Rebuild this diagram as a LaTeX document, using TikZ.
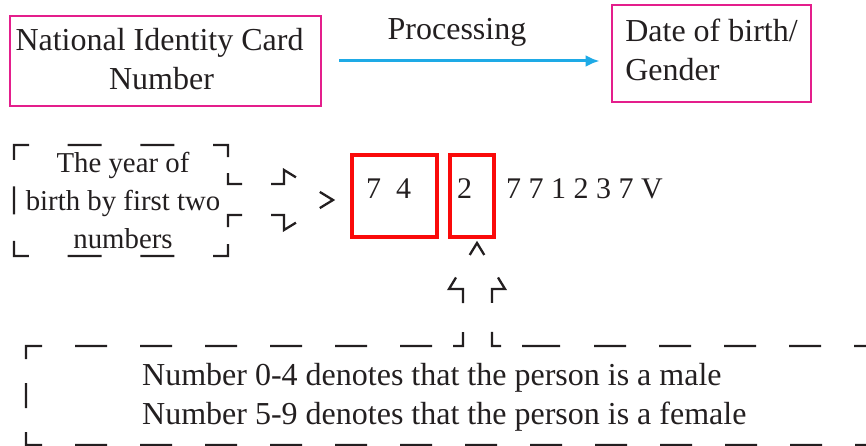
\documentclass[tikz,border=0pt]{standalone}
\usepackage{fontspec}
\setmainfont{Liberation Serif}
\usetikzlibrary{arrows.meta}
\definecolor{magline}{RGB}{228,30,140}
\definecolor{cyanline}{RGB}{30,170,230}
\definecolor{redline}{RGB}{250,10,10}
\definecolor{ink}{RGB}{35,31,32}
\begin{document}
\begin{tikzpicture}[x=1pt,y=-1pt,
  txt/.style={text=ink,inner sep=0pt},
  magbox/.style={txt,draw=magline,line width=2.8pt,align=center,font=\fontsize{32}{38.5}\selectfont},
  redbox/.style={draw=redline,line width=3.8pt,inner sep=0pt},
  digits/.style={txt,font=\fontsize{30}{36}\selectfont},
  callout/.style={draw=ink,line width=2.3pt,line cap=butt,line join=miter},
  procarrow/.style={draw=cyanline,line width=3pt,-{Latex[length=14pt,width=12pt]},shorten <=17pt,shorten >=11pt}
]
\useasboundingbox (0,0) rectangle (866,446);
\clip (0,0) rectangle (866,446);

% top row
\node[magbox, minimum width=311pt, minimum height=90pt] (nic) at (165.5,61) {National Identity Card\hspace*{12pt}\\Number\hspace*{8pt}\rule[-4pt]{0pt}{4pt}};
\node[magbox, minimum width=199pt, minimum height=97pt, align=left] (dob) at (711.5,53.5) {Date of birth/\\Gender\rule[-8pt]{0pt}{8pt}};
\node[txt, font=\fontsize{32}{38}\selectfont, anchor=base] (proc) at (457,40) {Processing};
\draw[procarrow] (nic.east) -- (nic.east -| dob.west);

% number boxes
\node[redbox, minimum width=85pt, minimum height=82pt] (yy) at (394.5,196) {};
\node[redbox, minimum width=44pt, minimum height=82pt] (gd) at (472,196) {};
\node[digits, anchor=base west] (yyt) at (366,199) {7\ \ 4};
\node[digits, anchor=base west] (gdt) at (457,199) {2};
\node[digits, anchor=base west] (rest) at (506,199) {7 7 1 2 3 7 V};

% left callout
\node[txt, align=center, font=\fontsize{28.8}{38}\selectfont] (yeart) at (123,200.5) {The year of\\birth by first two\\numbers};
\draw[callout, dash pattern=on 34pt off 38.67pt on 34pt off 38.67pt on 27pt off 16pt on 25pt off 29pt on 41pt off 28pt on 30.9pt off 28pt on 42pt off 29pt on 26pt off 17pt on 27pt off 38.67pt on 34pt off 38.67pt on 34pt off 38.67pt on 30pt off 26.5pt on 28pt off 26.5pt on 30pt off 38.67pt]
  (67.67,145) -- (228,145) -- (228,184) -- (284,184) -- (284,170) -- (333,200)
  -- (284,230) -- (284,215) -- (228,215) -- (228,256) -- (14,256) -- (14,145) -- cycle;

% bottom callout
\node[txt, align=left, font=\fontsize{32}{39}\selectfont, anchor=west] (gent) at (142,397.5) {Number 0-4 denotes that the person is a male\\Number 5-9 denotes that the person is a female};
\draw[callout, dash pattern=on 32pt off 33pt on 32pt off 33pt on 32pt off 33pt on 32pt off 33pt on 32pt off 33pt on 32pt off 33pt on 32pt off 33pt on 32pt off 33pt on 32pt off 33pt on 32pt off 33pt on 32pt off 33pt on 32pt off 33pt on 32pt off 33pt on 29pt off 24pt on 25pt off 24pt on 29pt off 33pt on 32pt off 33pt on 32pt off 33pt on 32pt off 33pt on 32pt off 33pt on 32pt off 33pt on 32pt off 21pt on 24pt off 29pt on 41.5pt off 26.35pt on 28pt off 26.35pt on 40.5pt off 29pt on 23pt off 21pt on 38pt off 34pt]
  (887,445) -- (26,445) -- (26,346) -- (463,346) -- (463,289) -- (449,289) -- (477,243)
  -- (505,289) -- (492,289) -- (492,346) -- (900,346);
\end{tikzpicture}
\end{document}
